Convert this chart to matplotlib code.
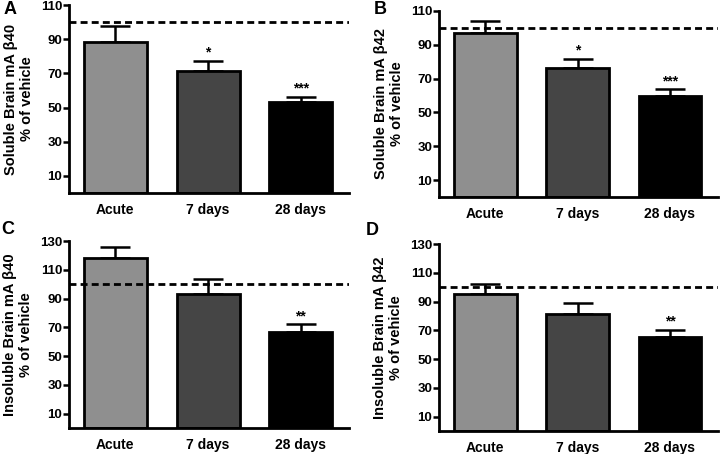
import numpy as np
import matplotlib.pyplot as plt

plt.rcParams['font.family'] = ['Liberation Sans', 'DejaVu Sans']
plt.rcParams['font.weight'] = 'bold'

groups = ['Acute', '7 days', '28 days']
colors = ['#8f8f8f', '#454545', '#000000']

sol40 = [88.5, 71.5, 53.5]
sol40_err = [9.5, 5.8, 2.7]
sol40_stars = ['', '*', '***']

sol42 = [97.0, 76.0, 59.8]
sol42_err = [7.2, 5.8, 3.8]
sol42_stars = ['', '*', '***']

ins40 = [118.5, 93.5, 67.0]
ins40_err = [7.5, 10.0, 5.0]
ins40_stars = ['', '', '**']

ins42 = [95.5, 81.5, 65.5]
ins42_err = [6.5, 7.5, 5.0]
ins42_stars = ['', '', '**']

panels = [
    ('A', sol40, sol40_err, sol40_stars, 'Soluble Brain mA β40', 110, [10, 30, 50, 70, 90, 110],
     [69, 5, 349, 193], (10, 10)),
    ('B', sol42, sol42_err, sol42_stars, 'Soluble Brain mA β42', 110, [10, 30, 50, 70, 90, 110],
     [439, 11, 718, 197], (380, 10)),
    ('C', ins40, ins40_err, ins40_stars, 'Insoluble Brain mA β40', 130, [10, 30, 50, 70, 90, 110, 130],
     [69, 241, 349, 428], (8, 229)),
    ('D', ins42, ins42_err, ins42_stars, 'Insoluble Brain mA β42', 130, [10, 30, 50, 70, 90, 110, 130],
     [439, 244, 718, 431], (372, 230)),
]

W, H = 720, 454
fig = plt.figure(figsize=(7.2, 4.54), dpi=100)

x = np.arange(len(groups))
for letter, vals, errs, stars, ylab, ymax, ticks, box, lpos in panels:
    l, t, r, b = box
    ax = fig.add_axes([l / W, 1 - b / H, (r - l) / W, (b - t) / H])
    ax.bar(x, vals, width=0.68, color=colors, edgecolor='black', linewidth=2, zorder=2)
    ax.errorbar(x, vals, yerr=[np.zeros(3), errs], fmt='none', ecolor='black',
                elinewidth=1.8, capsize=11, capthick=1.8, zorder=1)
    ax.axhline(100, color='black', linestyle=(0, (2.5, 1.5)), linewidth=2, zorder=3)
    for xi, v, e, s in zip(x, vals, errs, stars):
        if s:
            ax.annotate(s, (xi, v + e), xytext=(0, 1), textcoords='offset points',
                        ha='center', va='bottom', fontsize=10, fontweight='bold')
    ax.set_xlim(-0.5, 2.52)
    ax.set_ylim(0, ymax)
    ax.set_yticks(ticks)
    ax.set_xticks(x)
    ax.set_xticklabels(groups)
    ax.tick_params(axis='x', length=0, pad=7, labelsize=10)
    ax.tick_params(axis='y', length=4, width=1.8, pad=1, labelsize=9.5)
    for sp in ['top', 'right']:
        ax.spines[sp].set_visible(False)
    for sp in ['left', 'bottom']:
        ax.spines[sp].set_linewidth(2)
    ax.set_ylabel(ylab + '\n% of vehicle', fontsize=10.5, fontweight='bold', labelpad=5,
                  linespacing=1.15)
    fig.text(lpos[0] / W, 1 - lpos[1] / H, letter, fontsize=13, fontweight='bold',
             ha='center', va='center')

fig.savefig('out.png', dpi=100)
